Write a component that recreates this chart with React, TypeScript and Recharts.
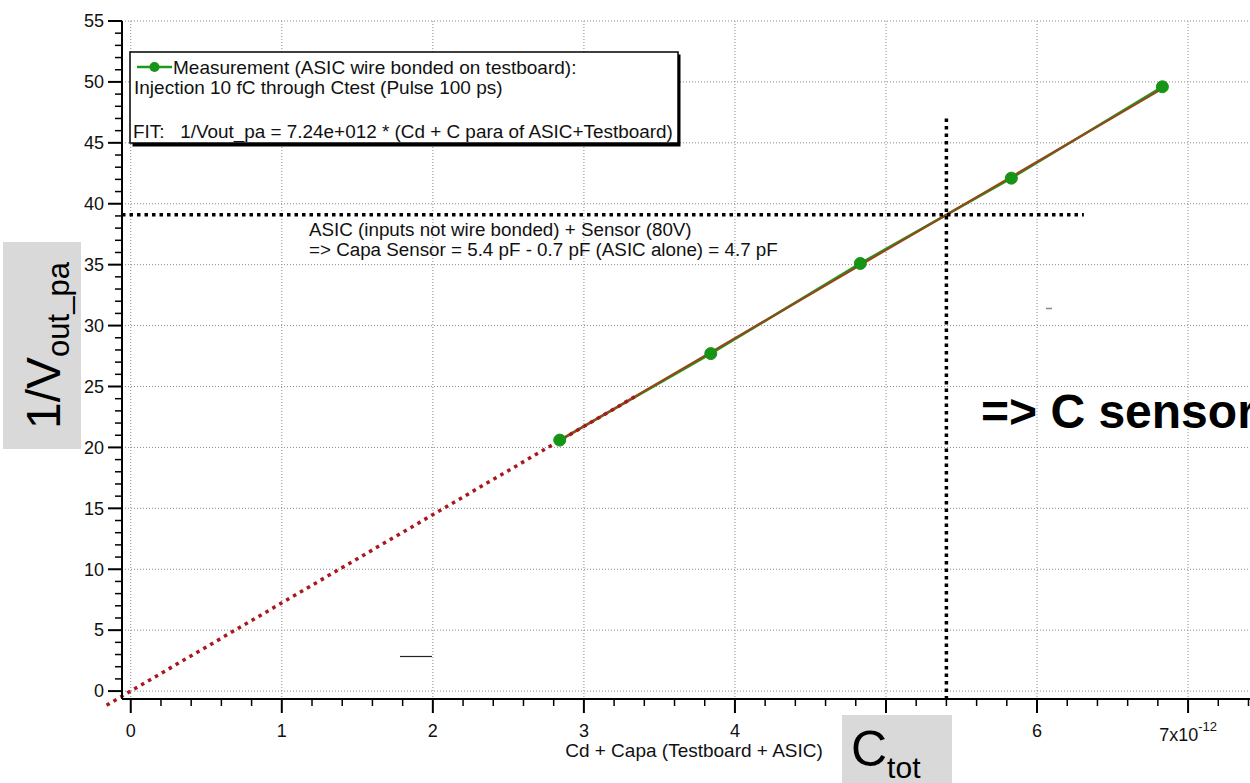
import { ComposedChart, Line, XAxis, YAxis, CartesianGrid, ReferenceLine } from 'recharts'

// total capacitance in pF (axis is labelled in units of 1e-12 F)
const cTot = [2.84, 3.84, 4.83, 5.83, 6.83]
// measured 1/Vout_pa for each capacitance
const invVout = [20.6, 27.7, 35.1, 42.1, 49.6]

// fit: 1/Vout_pa = 7.24e+012 * C  -> 7.24 per pF
const FIT_SLOPE = 7.24
const fitSpan = [2.84, 6.83]
const extrapSpan = [-0.16, 3.34]

// sensor + ASIC working point
const C_SENSOR_TOT = 5.4
const crossEndX = 6.31
const crossTopY = 47

const xMajor = [0, 1, 2, 3, 4, 5, 6, 7]
const yMajor = [0, 5, 10, 15, 20, 25, 30, 35, 40, 45, 50, 55]
// the "5" label sits under the C_tot box
const xLabelled = [0, 1, 2, 3, 4, 6, 7]
const xTicks = Array.from({ length: 38 }, (_, i) => Math.round(i * 2) / 10)
const yTicks = Array.from({ length: 56 }, (_, i) => i)

const X_DOMAIN: [number, number] = [-0.058, 7.41]
const Y_DOMAIN: [number, number] = [-0.65, 55]

const measData = cTot.map((x, i) => ({ x, y: invVout[i] }))
const fitData = fitSpan.map((x) => ({ x, y: FIT_SLOPE * x }))
const crossY = FIT_SLOPE * C_SENSOR_TOT

const FONT = '"Liberation Sans", Arial, sans-serif'

function XTick({ x, y, payload }: any) {
  const v = payload.value as number
  const major = Math.abs(v - Math.round(v)) < 1e-6
  const labelled = major && xLabelled.includes(Math.round(v))
  return (
    <g>
      <line x1={x} x2={x} y1={y} y2={y + (major ? 14 : 7)} stroke="#000" strokeWidth={major ? 2 : 1.5} />
      {labelled && v !== 7 && (
        <text x={x} y={y + 38} textAnchor="middle" fontSize={18} fill="#111" fontFamily={FONT}>
          {v}
        </text>
      )}
      {labelled && v === 7 && (
        <text x={x} y={y + 42} textAnchor="middle" fontSize={18} fill="#111" fontFamily={FONT}>
          7x10
          <tspan fontSize={13} dy={-10}>-12</tspan>
        </text>
      )}
    </g>
  )
}

function YTick({ x, y, payload }: any) {
  const v = payload.value as number
  const major = v % 5 === 0
  return (
    <g>
      <line x1={x - (major ? 14 : 7)} x2={x} y1={y} y2={y} stroke="#000" strokeWidth={major ? 2 : 1.5} />
      {major && (
        <text x={x - 18} y={y} dy="0.35em" textAnchor="end" fontSize={18} fill="#111" fontFamily={FONT}>
          {v}
        </text>
      )}
    </g>
  )
}

function Annotations() {
  return (
    <svg
      width={1250}
      height={783}
      style={{ position: 'absolute', left: 0, top: 0, pointerEvents: 'none' }}
      fontFamily={FONT}
    >
      {/* legend box with drop shadow */}
      <rect x={132.5} y={54.5} width={548} height={92} fill="#000" />
      <rect x={130} y={52} width={548} height={91} fill="#fff" stroke="#000" strokeWidth={1.5} />
      <line x1={137} x2={172} y1={67} y2={67} stroke="#1c9a1c" strokeWidth={2.5} />
      <circle cx={154.5} cy={67} r={5} fill="#169416" />
      <text x={173} y={73.5} fontSize={19} fill="#111">
        Measurement (ASIC wire bonded on testboard):
      </text>
      <text x={134} y={93.5} fontSize={19} fill="#111">
        Injection 10 fC through Ctest (Pulse 100 ps)
      </text>
      <text x={133} y={137.5} fontSize={18.9} fill="#111" xmlSpace="preserve">
        {'FIT:   1/Vout_pa = 7.24e+012 * (Cd + C para of ASIC+Testboard)'}
      </text>

      {/* sensor annotation */}
      <text x={309} y={236} fontSize={18.8} fill="#111">
        ASIC (inputs not wire bonded) + Sensor (80V)
      </text>
      <text x={309} y={256} fontSize={18.8} fill="#111">
        {'=> Capa Sensor = 5.4 pF - 0.7 pF (ASIC alone) = 4.7 pF'}
      </text>

      <text x={981} y={428} fontSize={48} fontWeight="bold" fill="#000">
        {'=> C sensor'}
      </text>

      {/* stray marks left in the plot */}
      <line x1={400} x2={432} y1={656.5} y2={656.5} stroke="#222" strokeWidth={1.2} />
      <line x1={1046} x2={1052} y1={308.5} y2={308.5} stroke="#888" strokeWidth={1.5} />

      {/* axis titles */}
      <text x={694} y={756.5} textAnchor="middle" fontSize={19} fill="#111">
        Cd + Capa (Testboard + ASIC)
      </text>

      <rect x={3} y={242} width={78} height={207} fill="#d9d9d9" />
      <text transform="translate(60, 345.5) rotate(-90)" textAnchor="middle" fill="#000">
        <tspan fontSize={48}>1/V</tspan>
        <tspan fontSize={31} dy={9}>out_pa</tspan>
      </text>

      <rect x={842} y={715} width={110} height={68} fill="#d9d9d9" />
      <text x={851} y={766} fill="#000">
        <tspan fontSize={50}>C</tspan>
        <tspan fontSize={30} dy={12}>tot</tspan>
      </text>
    </svg>
  )
}

export default function App() {
  return (
    <div
      style={{
        position: 'absolute',
        left: 0,
        top: 0,
        width: 1250,
        height: 783,
        overflow: 'hidden',
        background: '#fff',
        fontFamily: FONT,
      }}
    >
      <ComposedChart width={1250} height={783} margin={{ top: 21, right: 0, bottom: 0, left: 0 }}>
        <CartesianGrid
          stroke="#8a8a8a"
          strokeDasharray="1 2"
          horizontalValues={yMajor}
          verticalValues={xMajor}
        />
        <XAxis
          type="number"
          dataKey="x"
          domain={X_DOMAIN}
          allowDataOverflow
          ticks={xTicks}
          interval={0}
          height={84}
          tickSize={0}
          tickMargin={0}
          tickLine={false}
          tick={<XTick />}
          axisLine={{ stroke: '#000', strokeWidth: 2 }}
        />
        <YAxis
          type="number"
          dataKey="y"
          domain={Y_DOMAIN}
          allowDataOverflow
          ticks={yTicks}
          interval={0}
          width={122}
          tickSize={0}
          tickMargin={0}
          tickLine={false}
          tick={<YTick />}
          axisLine={{ stroke: '#000', strokeWidth: 2 }}
        />
        <Line
          data={measData}
          dataKey="y"
          type="linear"
          stroke="#1c9a1c"
          strokeWidth={2.5}
          dot={{ r: 6, fill: '#169416', stroke: '#169416', strokeWidth: 1 }}
          isAnimationActive={false}
        />
        <Line
          data={fitData}
          dataKey="y"
          type="linear"
          stroke="#95471a"
          strokeWidth={2.2}
          dot={false}
          isAnimationActive={false}
        />
        <ReferenceLine
          segment={[
            { x: extrapSpan[0], y: FIT_SLOPE * extrapSpan[0] },
            { x: extrapSpan[1], y: FIT_SLOPE * extrapSpan[1] },
          ]}
          ifOverflow="visible"
          stroke="#a8191f"
          strokeWidth={3.5}
          strokeDasharray="3.5 4.5"
        />
        <ReferenceLine
          segment={[
            { x: X_DOMAIN[0], y: crossY },
            { x: crossEndX, y: crossY },
          ]}
          ifOverflow="visible"
          stroke="#000"
          strokeWidth={3.5}
          strokeDasharray="3.5 4"
        />
        <ReferenceLine
          segment={[
            { x: C_SENSOR_TOT, y: crossTopY },
            { x: C_SENSOR_TOT, y: Y_DOMAIN[0] },
          ]}
          ifOverflow="visible"
          stroke="#000"
          strokeWidth={3.5}
          strokeDasharray="3.5 4"
        />
      </ComposedChart>
      <Annotations />
    </div>
  )
}
